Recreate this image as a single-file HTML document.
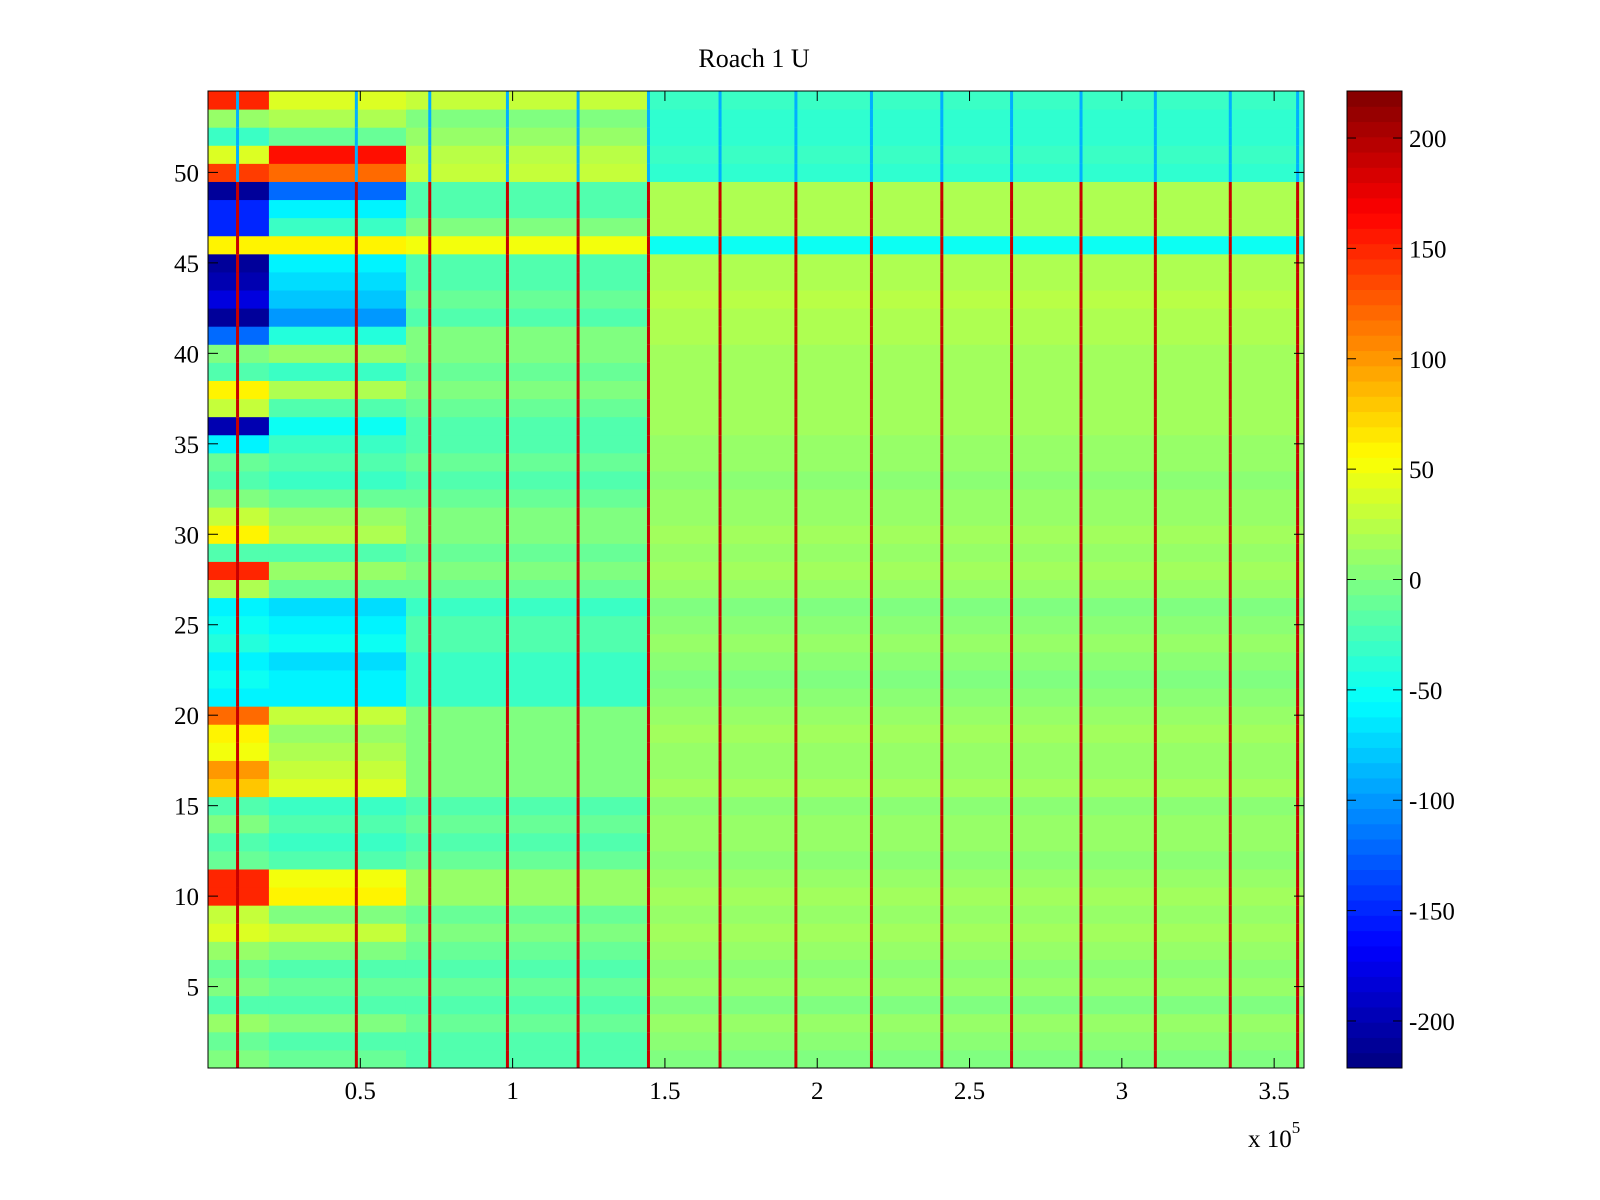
<!DOCTYPE html>
<html><head><meta charset="utf-8"><style>
html,body{margin:0;padding:0;background:#fff;}
svg{display:block;font-family:"Liberation Serif",serif;}
</style></head><body>
<svg id="chart" width="1600" height="1200" xmlns="http://www.w3.org/2000/svg">
<text x="754" y="67" font-size="26" text-anchor="middle">Roach 1 U</text>
<g id="cells"></g>
<g id="cbar"></g>
<g id="axes"></g>
</svg>
<script>
// Segment boundaries (x in units of 1e5)
const segEdges = [0, 0.2, 0.65, 1.45, 3.6];
// Row values per segment, rows 1 (bottom) .. 54 (top)
const segA = [0,-10,10,-20,0,-10,10,40,30,150,150,-10,-20,0,-20,80,100,50,60,120,-60,-50,-60,-40,-50,-60,20,150,-20,60,30,0,-20,-10,-60,-200,30,60,-20,0,-120,-210,-180,-200,-210,60,-150,-150,-210,140,40,-30,10,150];
const segB = [-10,-20,0,-20,-10,-20,0,30,0,60,50,-20,-30,-20,-30,40,30,20,10,30,-60,-60,-70,-50,-60,-70,-10,10,-20,20,10,-10,-30,-20,-30,-50,-20,20,-30,10,-40,-100,-80,-70,-60,60,-30,-60,-120,120,160,-10,20,40];
const segC = [-20,-20,-10,-20,-10,-20,-10,0,-10,10,10,-10,-20,-10,-20,0,0,0,0,0,-30,-30,-30,-20,-20,-30,-10,0,-10,0,0,-10,-20,-10,-20,-20,-10,0,-10,0,0,-20,-10,-20,-20,50,0,-20,-20,30,25,10,0,30];
const segD = [0,5,10,0,10,5,10,15,10,15,10,5,10,10,5,15,10,10,15,10,5,0,5,10,5,0,10,15,10,15,10,10,5,10,10,15,15,15,15,15,20,20,25,20,20,-50,20,20,20,-35,-30,-35,-35,-30];
// Vertical stripe positions (x in 1e5 units)
const stripeX = [0.097,0.487,0.728,0.983,1.215,1.446,1.681,1.93,2.178,2.409,2.638,2.866,3.11,3.356,3.577];
const stripeHot = 190, stripeCold = -90;
const cbTicks = [-200,-150,-100,-50,0,50,100,150,200];
const xTicks = [0.5,1,1.5,2,2.5,3,3.5];
const yTicks = [5,10,15,20,25,30,35,40,45,50];

const PX0=208,PX1=1304,PY0=91,PY1=1068,XMAX=3.598,NROW=54,VMIN=-221.3,VMAX=221.3;
const xs=v=>PX0+v/XMAX*(PX1-PX0);
const ys=r=>PY1-(r-0.5)/NROW*(PY1-PY0);
function jet(v){let t=(v-VMIN)/(VMAX-VMIN);t=Math.max(0,Math.min(1,t));
 const f=x=>Math.max(0,Math.min(1,x));
 const r=f(Math.min(4*t-1.5,-4*t+4.5)),g=f(Math.min(4*t-0.5,-4*t+3.5)),b=f(Math.min(4*t+0.5,-4*t+2.5));
 return `rgb(${Math.round(r*255)},${Math.round(g*255)},${Math.round(b*255)})`;}
const NS="http://www.w3.org/2000/svg";
function mk(tag,attrs,parent){const e=document.createElementNS(NS,tag);for(const k in attrs)e.setAttribute(k,attrs[k]);parent.appendChild(e);return e;}
const cells=document.getElementById('cells');
const segs=[segA,segB,segC,segD];
for(let r=1;r<=NROW;r++){
 const y0=ys(r+0.5),y1=ys(r-0.5);
 for(let s=0;s<4;s++){
  const e=mk('rect',{x:xs(segEdges[s]),y:y0,width:Math.min(xs(segEdges[s+1]),PX1)-xs(segEdges[s])+0.5,height:y1-y0+0.5,fill:jet(segs[s][r-1])},cells);
  
  
 }
 for(const sx of stripeX){
  const v=r>=50?stripeCold:stripeHot;
  const e=mk('rect',{x:xs(sx)-1.5,y:y0,width:3,height:y1-y0+0.5,fill:jet(v)},cells);
  
  
 }
}
const axes=document.getElementById('axes');
const box=mk('rect',{x:PX0,y:PY0,width:PX1-PX0,height:PY1-PY0,fill:'none',stroke:'#000','stroke-width':1},axes);

for(const t of xTicks){const x=xs(t);
 mk('line',{x1:x,x2:x,y1:PY1,y2:PY1-10,stroke:'#000'},axes);mk('line',{x1:x,x2:x,y1:PY0,y2:PY0+10,stroke:'#000'},axes);
 const l=mk('text',{x:x,y:1099,'font-size':25,'text-anchor':'middle'},axes);l.textContent=t;
 }
for(const t of yTicks){const y=ys(t);
 mk('line',{x1:PX0,x2:PX0+10,y1:y,y2:y,stroke:'#000'},axes);mk('line',{x1:PX1,x2:PX1-10,y1:y,y2:y,stroke:'#000'},axes);
 const l=mk('text',{x:199,y:y+9,'font-size':25,'text-anchor':'end'},axes);l.textContent=t;
 }
const ex=mk('text',{x:1248,y:1147,'font-size':25},axes);ex.innerHTML='x 10<tspan dy="-14" font-size="17">5</tspan>';

// colorbar
const cb=document.getElementById('cbar');const CX0=1347,CX1=1402;
const cy=v=>PY1-(v-VMIN)/(VMAX-VMIN)*(PY1-PY0);
for(let i=0;i<64;i++){const v0=VMIN+i*(VMAX-VMIN)/64,v1=VMIN+(i+1)*(VMAX-VMIN)/64;
 const e=mk('rect',{x:CX0,y:cy(v1),width:CX1-CX0,height:cy(v0)-cy(v1)+0.5,fill:jet((v0+v1)/2)},cb);
 }
mk('rect',{x:CX0,y:PY0,width:CX1-CX0,height:PY1-PY0,fill:'none',stroke:'#000'},cb);
for(const t of cbTicks){const y=cy(t);
 mk('line',{x1:CX0,x2:CX0+9,y1:y,y2:y,stroke:'#000'},cb);mk('line',{x1:CX1,x2:CX1-9,y1:y,y2:y,stroke:'#000'},cb);
 const l=mk('text',{x:1409,y:y+9,'font-size':25},cb);l.textContent=t;
 }
</script>
</body></html>
